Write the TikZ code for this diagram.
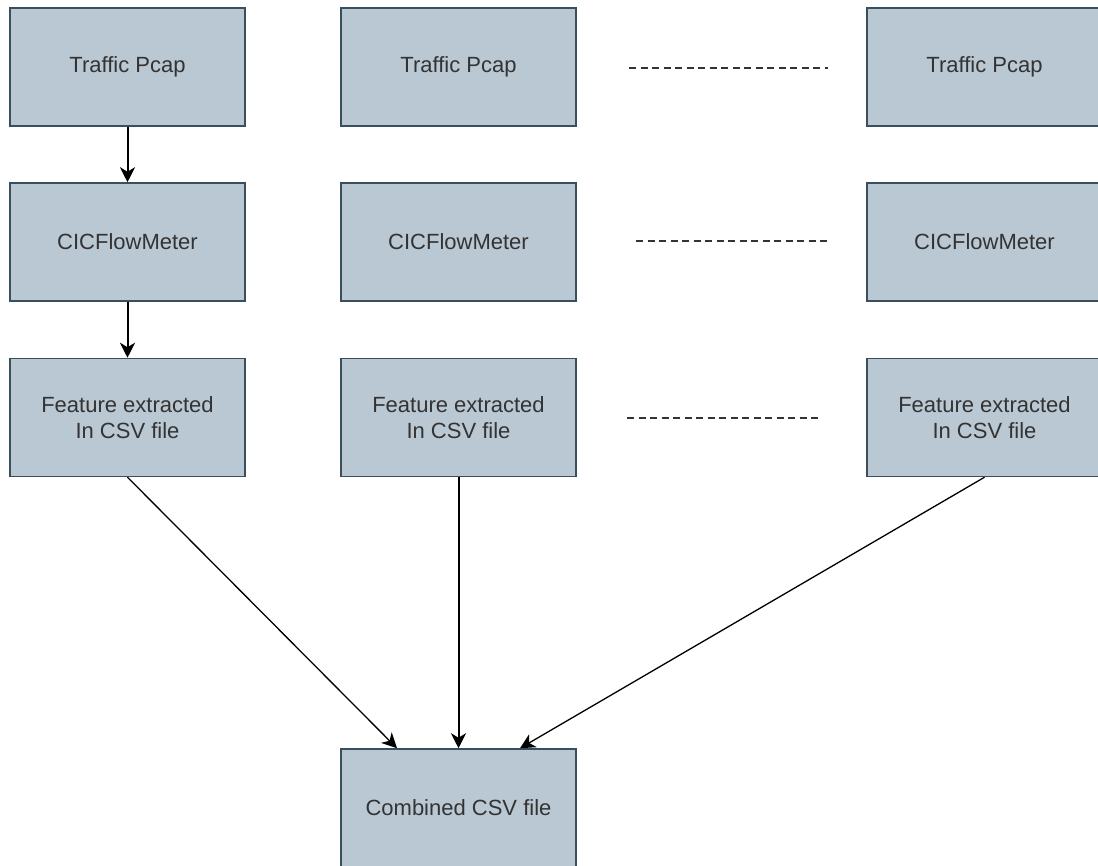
\documentclass[tikz,border=0pt]{standalone}
\usepackage{fontspec}
\setmainfont{Liberation Sans}
\usetikzlibrary{arrows.meta}
\definecolor{boxfill}{HTML}{BAC8D3}
\definecolor{boxline}{HTML}{3A4F5E}
\definecolor{boxtext}{HTML}{333333}

\begin{document}
\begin{tikzpicture}[x=1pt, y=1pt,
    procbox/.style={rectangle, draw=boxline, fill=boxfill, line width=1.5pt, minimum width=235pt, minimum height=118pt, inner sep=0pt, align=center, text=boxtext, font=\fontsize{22}{26}\selectfont},
    flow/.style={-{Stealth[length=15pt, width=15pt, inset=4.5pt]}, line width=2pt},
    merge/.style={-{Stealth[length=15pt, width=15pt, inset=4.5pt]}, line width=1.3pt},
    gap/.style={dash pattern=on 7pt off 4.5pt, line width=1.6pt, black!80}]
            \useasboundingbox (0, 0) rectangle (1098, 866);
            \node[procbox] (pcap1) at (127.5, 799) {Traffic Pcap};
            \node[procbox] (pcap2) at (458.5, 799) {Traffic Pcap};
            \node[procbox] (pcap3) at (984.5, 799) {Traffic Pcap};
            \node[procbox] (cic1) at (127.5, 624) {CICFlowMeter};
            \node[procbox] (cic2) at (458.5, 624) {CICFlowMeter};
            \node[procbox] (cic3) at (984.5, 624) {CICFlowMeter};
            \node[procbox] (feat1) at (127.5, 448.5) {Feature extracted\\In CSV file};
            \node[procbox] (feat2) at (458.5, 448.5) {Feature extracted\\In CSV file};
            \node[procbox] (feat3) at (984.5, 448.5) {Feature extracted\\In CSV file};
            \node[procbox] (comb) at (458.5, 58) {Combined CSV file};

            \coordinate (g1a) at (629, 798);
            \coordinate (g1b) at (828, 798);
            \coordinate (g2a) at (636, 625);
            \coordinate (g2b) at (828, 625);
            \coordinate (g3a) at (627, 448);
            \coordinate (g3b) at (822, 448);

            \draw[flow] (pcap1) -- (cic1);
            \draw[flow] (cic1) -- (feat1);
            \draw[merge] (feat1.south) -- ([xshift=-61.5pt]comb.north);
            \draw[flow] (feat2) -- (comb);
            \draw[merge] (feat3.south) -- ([xshift=61.5pt]comb.north);
            \draw[gap] (g1a) -- (g1b);
            \draw[gap] (g2a) -- (g2b);
            \draw[gap] (g3a) -- (g3b);
        \end{tikzpicture}
\end{document}
